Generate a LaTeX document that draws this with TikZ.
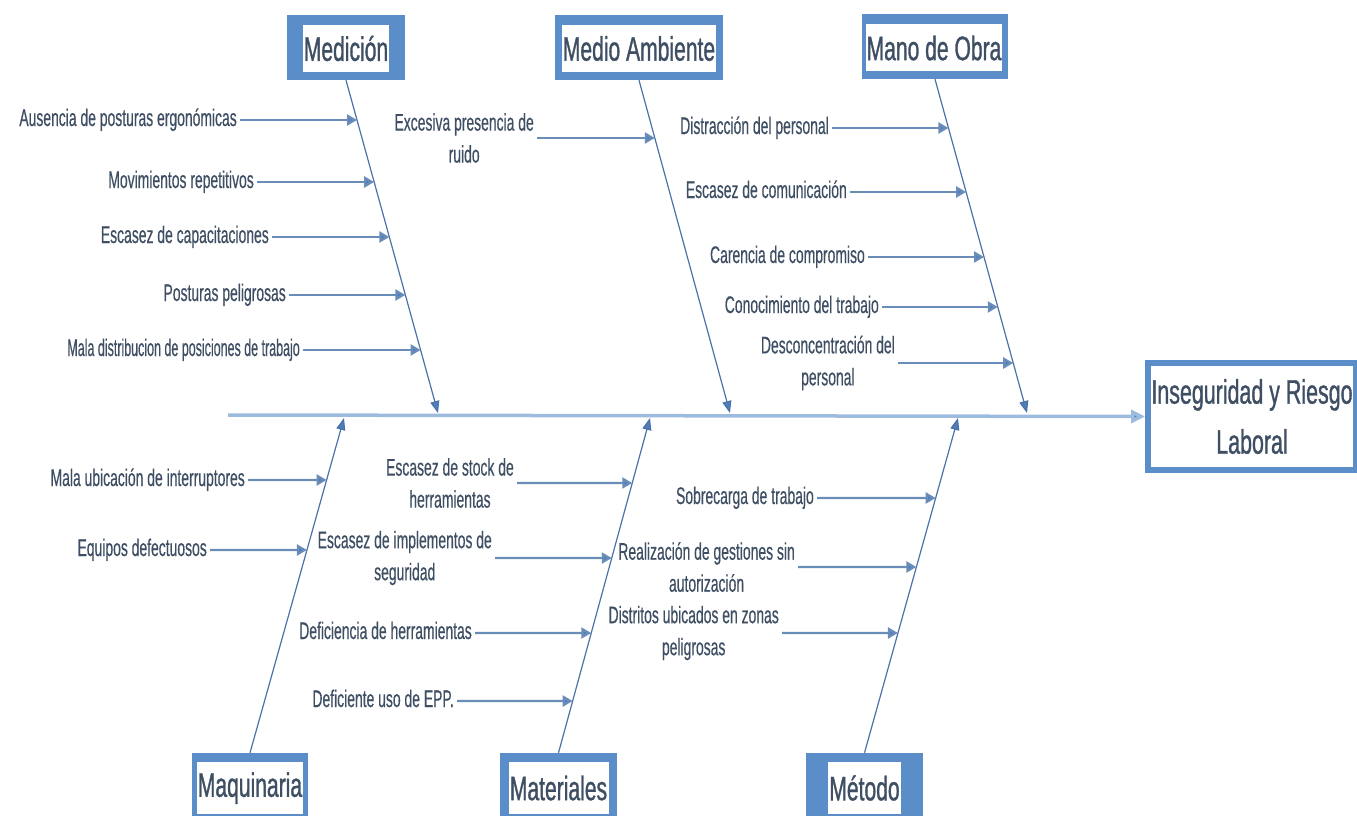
\documentclass[tikz,border=0pt]{standalone}
\usepackage{fontspec}
\setmainfont{Liberation Sans}
\newfontfamily\nar[FakeStretch=0.58,FakeBold=0.4]{Liberation Sans}
\newfontfamily\narr[FakeStretch=0.52,FakeBold=0.4]{Liberation Sans}
\newfontfamily\catf[FakeStretch=0.62,FakeBold=0.9]{Liberation Sans}
\newfontfamily\efff[FakeStretch=0.63,FakeBold=0.9]{Liberation Sans}
\usetikzlibrary{arrows.meta}
\definecolor{boxblue}{HTML}{5B8DC9}
\definecolor{bonecol}{HTML}{4A72A8}
\definecolor{causecol}{HTML}{6A8CB8}
\definecolor{spinecol}{HTML}{9DBBDD}
\definecolor{txt}{HTML}{3E4E63}
\definecolor{headcol}{HTML}{4F7FB8}
\begin{document}
\begin{tikzpicture}[x=1pt,y=-1pt,
  cause/.style={font=\nar\fontsize{24}{32}\selectfont, text=txt, align=center, inner sep=3pt, anchor=east},
  cause1/.style={cause, text height=17pt, text depth=5pt},
  catbg/.style={fill=boxblue, minimum height=65pt, inner sep=0pt},
  catbgb/.style={fill=boxblue, minimum height=70pt, inner sep=0pt},
  catlbl/.style={fill=white, text=txt, font=\catf\fontsize{34}{36}\selectfont, inner xsep=1pt, inner ysep=0pt, minimum height=47pt},
  catlblb/.style={catlbl, minimum height=52pt},
  effbox/.style={draw=boxblue, line width=6pt, fill=white, minimum width=204pt, minimum height=107pt, text=txt, align=center, font=\efff\fontsize{34}{50}\selectfont},
  bone/.style={draw=bonecol, line width=1.2pt, -{Triangle[length=12pt,width=9pt,fill=headcol]}},
  causearr/.style={draw=causecol, line width=2.3pt, -{Triangle[length=10pt,width=11pt,fill=headcol]}},
  spine/.style={draw=spinecol, line width=3.5pt, -{Triangle[length=14pt,width=13pt,fill=headcol]}}
]
\useasboundingbox (0,0) rectangle (1357,816);
\clip (0,0) rectangle (1357,816);

% effect
\node[effbox] (eff) at (1252,416.5) {Inseguridad y Riesgo\\Laboral};
\coordinate (s0) at (228,415);
\draw[spine] (s0) -- (eff.west);

% top categories
\node[catbg, minimum width=118pt] (medB) at (346,47.5) {};
\node[catlbl, minimum width=85pt] (medL) at (346,48.5) {Medición};
\node[catbg, minimum width=168pt] (ambB) at (639,47.5) {};
\node[catlbl, minimum width=152pt] (ambL) at (639,48.5) {Medio Ambiente};
\node[catbg, minimum width=146pt] (manB) at (935,46.5) {};
\node[catlbl, minimum width=132pt] (manL) at (934,48) {Mano de Obra};

% bottom categories
\node[catbgb, minimum width=116pt] (maqB) at (250,788) {};
\node[catlblb, minimum width=100pt] (maqL) at (250,788) {Maquinaria};
\node[catbgb, minimum width=117pt] (matB) at (558.5,788) {};
\node[catlblb, minimum width=100pt] (matL) at (558.5,788) {Materiales};
\node[catbgb, minimum width=117pt] (metB) at (864.5,788) {};
\node[catlblb, minimum width=71pt] (metL) at (864.5,788) {Método};

% bones
\coordinate (medE) at (438,413);
\coordinate (ambE) at (730,413);
\coordinate (manE) at (1027,413);
\coordinate (maqE) at (344,418);
\coordinate (matE) at (650,418);
\coordinate (metE) at (958,418);
\draw[bone] (medB.south) -- (medE);
\draw[bone] (ambB.south) -- (ambE);
\draw[bone] (manB.south) -- (manE);
\draw[bone] (maqB.north) -- (maqE);
\draw[bone] (matB.north) -- (matE);
\draw[bone] (metB.north) -- (metE);

% Medicion causes
\node[cause1] (c1) at (240,120) {Ausencia de posturas ergonómicas};
\node[cause1] (c2) at (257,182) {Movimientos repetitivos};
\node[cause1] (c3) at (272,237) {Escasez de capacitaciones};
\node[cause1] (c4) at (289,295) {Posturas peligrosas};
\node[cause1, font=\narr\fontsize{24}{32}\selectfont] (c5) at (303,350) {Mala distribucion de posiciones de trabajo};
\draw[causearr] (c1.east) -- (intersection of medB.south--medE and 0,120--1,120);
\draw[causearr] (c2.east) -- (intersection of medB.south--medE and 0,182--1,182);
\draw[causearr] (c3.east) -- (intersection of medB.south--medE and 0,237--1,237);
\draw[causearr] (c4.east) -- (intersection of medB.south--medE and 0,295--1,295);
\draw[causearr] (c5.east) -- (intersection of medB.south--medE and 0,350--1,350);

% Medio Ambiente cause
\node[cause] (c6) at (537,138) {Excesiva presencia de\\ruido};
\draw[causearr] (c6.east) -- (intersection of ambB.south--ambE and 0,138--1,138);

% Mano de Obra causes
\node[cause1] (c7) at (832,128) {Distracción del personal};
\node[cause1] (c8) at (850,192) {Escasez de comunicación};
\node[cause1] (c9) at (868,257) {Carencia de compromiso};
\node[cause1] (c10) at (882,307) {Conocimiento del trabajo};
\node[cause] (c11) at (898,363) {Desconcentración del\\personal};
\draw[causearr] (c7.east) -- (intersection of manB.south--manE and 0,128--1,128);
\draw[causearr] (c8.east) -- (intersection of manB.south--manE and 0,192--1,192);
\draw[causearr] (c9.east) -- (intersection of manB.south--manE and 0,257--1,257);
\draw[causearr] (c10.east) -- (intersection of manB.south--manE and 0,307--1,307);
\draw[causearr] (c11.east) -- (intersection of manB.south--manE and 0,363--1,363);

% Maquinaria causes
\node[cause1] (c12) at (248,480) {Mala ubicación de interruptores};
\node[cause1] (c13) at (210,550) {Equipos defectuosos};
\draw[causearr] (c12.east) -- (intersection of maqB.north--maqE and 0,480--1,480);
\draw[causearr] (c13.east) -- (intersection of maqB.north--maqE and 0,550--1,550);

% Materiales causes
\node[cause] (c14) at (517,483) {Escasez de stock de\\herramientas};
\node[cause] (c15) at (495,558) {Escasez de implementos de\\seguridad};
\node[cause1] (c16) at (475,633) {Deficiencia de herramientas};
\node[cause1] (c17) at (457,701) {Deficiente uso de EPP.};
\draw[causearr] (c14.east) -- (intersection of matB.north--matE and 0,483--1,483);
\draw[causearr] (c15.east) -- (intersection of matB.north--matE and 0,558--1,558);
\draw[causearr] (c16.east) -- (intersection of matB.north--matE and 0,633--1,633);
\draw[causearr] (c17.east) -- (intersection of matB.north--matE and 0,701--1,701);

% Metodo causes
\node[cause1] (c18) at (817,498) {Sobrecarga de trabajo};
\node[cause] (c19) at (798,567) {Realización de gestiones sin\\autorización};
\node[cause] (c20) at (782,633) {Distritos ubicados en zonas\\peligrosas};
\draw[causearr] (c18.east) -- (intersection of metB.north--metE and 0,498--1,498);
\draw[causearr] (c19.east) -- (intersection of metB.north--metE and 0,567--1,567);
\draw[causearr] (c20.east) -- (intersection of metB.north--metE and 0,633--1,633);
\end{tikzpicture}
\end{document}
